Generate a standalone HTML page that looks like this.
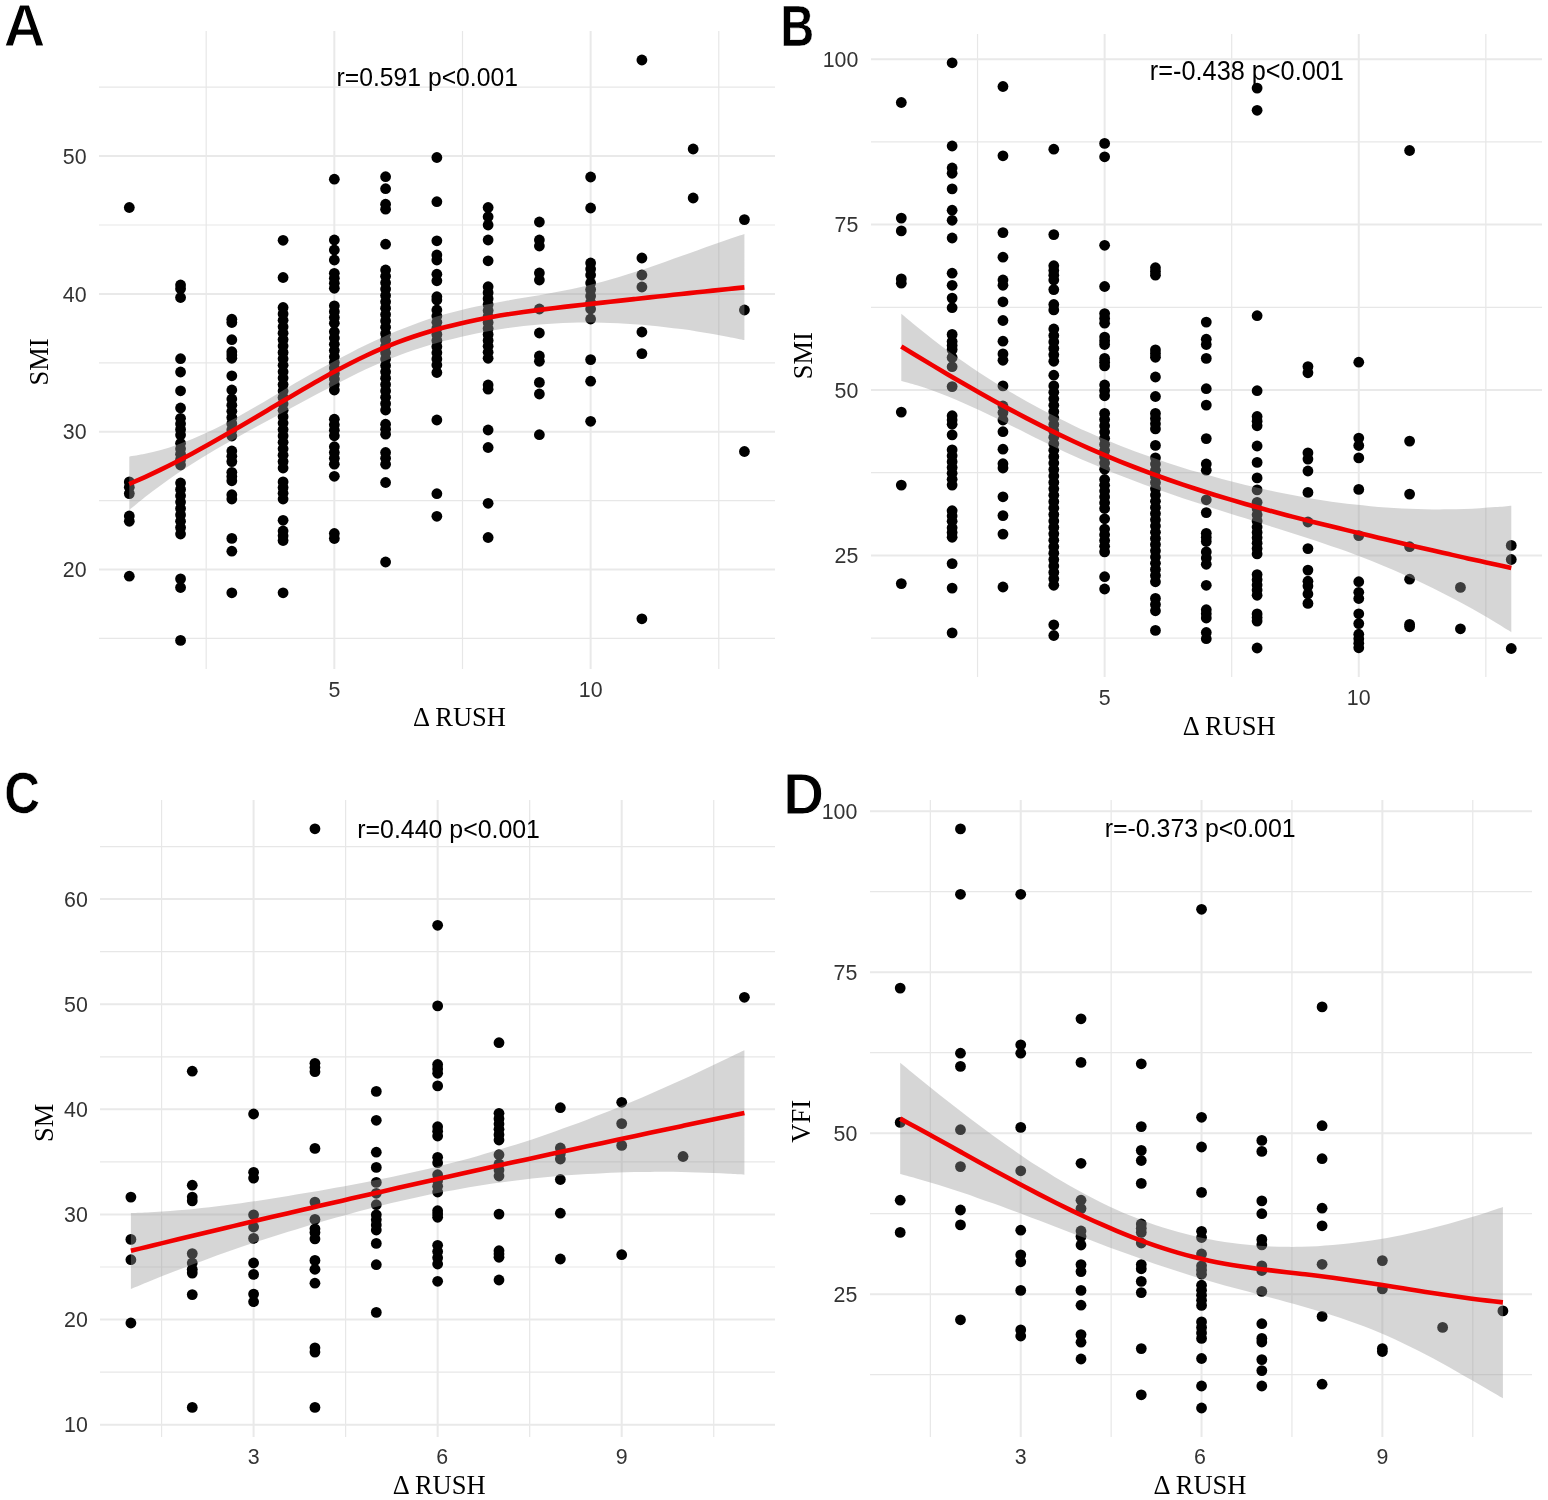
<!DOCTYPE html>
<html><head><meta charset="utf-8"><title>Figure</title><style>html,body{margin:0;padding:0;background:#fff;width:1548px;height:1500px;overflow:hidden}svg{display:block}</style></head><body>
<svg width="1548" height="1500" viewBox="0 0 1548 1500">
<rect width="1548" height="1500" fill="#fff"/>
<path d="M99 638.4H775M99 500.6H775M99 362.8H775M99 225H775M99 87.2H775M206.19 31V669M462.49 31V669M718.79 31V669" stroke="#e7e7e7" stroke-width="1.2" fill="none"/>
<path d="M99 569.5H775M99 431.7H775M99 293.9H775M99 156.1H775M334.34 31V669M590.64 31V669" stroke="#e9e9e9" stroke-width="2.0" fill="none"/>
<g fill="#000"><circle cx="129.3" cy="207.5" r="5.4"/><circle cx="129.3" cy="481.9" r="5.4"/><circle cx="129.3" cy="487.2" r="5.4"/><circle cx="129.3" cy="493.6" r="5.4"/><circle cx="129.3" cy="516" r="5.4"/><circle cx="129.3" cy="521.3" r="5.4"/><circle cx="129.3" cy="576.2" r="5.4"/><circle cx="180.56" cy="285" r="5.4"/><circle cx="180.56" cy="288.7" r="5.4"/><circle cx="180.56" cy="297.5" r="5.4"/><circle cx="180.56" cy="358.7" r="5.4"/><circle cx="180.56" cy="372" r="5.4"/><circle cx="180.56" cy="390.8" r="5.4"/><circle cx="180.56" cy="408" r="5.4"/><circle cx="180.56" cy="418.3" r="5.4"/><circle cx="180.56" cy="423.87" r="5.4"/><circle cx="180.56" cy="429.43" r="5.4"/><circle cx="180.56" cy="435" r="5.4"/><circle cx="180.56" cy="443.3" r="5.4"/><circle cx="180.56" cy="448.73" r="5.4"/><circle cx="180.56" cy="454.15" r="5.4"/><circle cx="180.56" cy="459.57" r="5.4"/><circle cx="180.56" cy="465" r="5.4"/><circle cx="180.56" cy="483" r="5.4"/><circle cx="180.56" cy="489.38" r="5.4"/><circle cx="180.56" cy="495.75" r="5.4"/><circle cx="180.56" cy="502.12" r="5.4"/><circle cx="180.56" cy="508.5" r="5.4"/><circle cx="180.56" cy="514.88" r="5.4"/><circle cx="180.56" cy="521.25" r="5.4"/><circle cx="180.56" cy="527.62" r="5.4"/><circle cx="180.56" cy="534" r="5.4"/><circle cx="180.56" cy="578.9" r="5.4"/><circle cx="180.56" cy="587.5" r="5.4"/><circle cx="180.56" cy="640.4" r="5.4"/><circle cx="231.82" cy="319.2" r="5.4"/><circle cx="231.82" cy="322.5" r="5.4"/><circle cx="231.82" cy="339.7" r="5.4"/><circle cx="231.82" cy="351.7" r="5.4"/><circle cx="231.82" cy="355" r="5.4"/><circle cx="231.82" cy="358.3" r="5.4"/><circle cx="231.82" cy="375.8" r="5.4"/><circle cx="231.82" cy="390" r="5.4"/><circle cx="231.82" cy="399" r="5.4"/><circle cx="231.82" cy="405.17" r="5.4"/><circle cx="231.82" cy="411.33" r="5.4"/><circle cx="231.82" cy="417.5" r="5.4"/><circle cx="231.82" cy="423.67" r="5.4"/><circle cx="231.82" cy="429.83" r="5.4"/><circle cx="231.82" cy="436" r="5.4"/><circle cx="231.82" cy="451" r="5.4"/><circle cx="231.82" cy="456.3" r="5.4"/><circle cx="231.82" cy="461.6" r="5.4"/><circle cx="231.82" cy="472.3" r="5.4"/><circle cx="231.82" cy="476.55" r="5.4"/><circle cx="231.82" cy="480.8" r="5.4"/><circle cx="231.82" cy="494.7" r="5.4"/><circle cx="231.82" cy="499" r="5.4"/><circle cx="231.82" cy="538.4" r="5.4"/><circle cx="231.82" cy="551.2" r="5.4"/><circle cx="231.82" cy="592.8" r="5.4"/><circle cx="283.08" cy="240.3" r="5.4"/><circle cx="283.08" cy="277.5" r="5.4"/><circle cx="283.08" cy="307.5" r="5.4"/><circle cx="283.08" cy="313.92" r="5.4"/><circle cx="283.08" cy="320.34" r="5.4"/><circle cx="283.08" cy="326.76" r="5.4"/><circle cx="283.08" cy="333.18" r="5.4"/><circle cx="283.08" cy="339.6" r="5.4"/><circle cx="283.08" cy="346.02" r="5.4"/><circle cx="283.08" cy="352.44" r="5.4"/><circle cx="283.08" cy="358.86" r="5.4"/><circle cx="283.08" cy="365.28" r="5.4"/><circle cx="283.08" cy="371.7" r="5.4"/><circle cx="283.08" cy="378.12" r="5.4"/><circle cx="283.08" cy="384.54" r="5.4"/><circle cx="283.08" cy="390.96" r="5.4"/><circle cx="283.08" cy="397.38" r="5.4"/><circle cx="283.08" cy="403.8" r="5.4"/><circle cx="283.08" cy="410.22" r="5.4"/><circle cx="283.08" cy="416.64" r="5.4"/><circle cx="283.08" cy="423.06" r="5.4"/><circle cx="283.08" cy="429.48" r="5.4"/><circle cx="283.08" cy="435.9" r="5.4"/><circle cx="283.08" cy="442.32" r="5.4"/><circle cx="283.08" cy="448.74" r="5.4"/><circle cx="283.08" cy="455.16" r="5.4"/><circle cx="283.08" cy="461.58" r="5.4"/><circle cx="283.08" cy="468" r="5.4"/><circle cx="283.08" cy="481.9" r="5.4"/><circle cx="283.08" cy="487.6" r="5.4"/><circle cx="283.08" cy="493.3" r="5.4"/><circle cx="283.08" cy="499" r="5.4"/><circle cx="283.08" cy="520.3" r="5.4"/><circle cx="283.08" cy="531" r="5.4"/><circle cx="283.08" cy="535.75" r="5.4"/><circle cx="283.08" cy="540.5" r="5.4"/><circle cx="283.08" cy="592.8" r="5.4"/><circle cx="334.34" cy="179.2" r="5.4"/><circle cx="334.34" cy="240" r="5.4"/><circle cx="334.34" cy="250" r="5.4"/><circle cx="334.34" cy="260" r="5.4"/><circle cx="334.34" cy="273.3" r="5.4"/><circle cx="334.34" cy="278.3" r="5.4"/><circle cx="334.34" cy="283.3" r="5.4"/><circle cx="334.34" cy="288.3" r="5.4"/><circle cx="334.34" cy="305.8" r="5.4"/><circle cx="334.34" cy="311.63" r="5.4"/><circle cx="334.34" cy="317.47" r="5.4"/><circle cx="334.34" cy="323.3" r="5.4"/><circle cx="334.34" cy="331.7" r="5.4"/><circle cx="334.34" cy="337.95" r="5.4"/><circle cx="334.34" cy="344.2" r="5.4"/><circle cx="334.34" cy="350.45" r="5.4"/><circle cx="334.34" cy="356.7" r="5.4"/><circle cx="334.34" cy="362.5" r="5.4"/><circle cx="334.34" cy="368" r="5.4"/><circle cx="334.34" cy="373.5" r="5.4"/><circle cx="334.34" cy="379" r="5.4"/><circle cx="334.34" cy="384.5" r="5.4"/><circle cx="334.34" cy="390" r="5.4"/><circle cx="334.34" cy="419.2" r="5.4"/><circle cx="334.34" cy="424.73" r="5.4"/><circle cx="334.34" cy="430.27" r="5.4"/><circle cx="334.34" cy="435.8" r="5.4"/><circle cx="334.34" cy="446.7" r="5.4"/><circle cx="334.34" cy="452.53" r="5.4"/><circle cx="334.34" cy="458.37" r="5.4"/><circle cx="334.34" cy="464.2" r="5.4"/><circle cx="334.34" cy="476.3" r="5.4"/><circle cx="334.34" cy="533.5" r="5.4"/><circle cx="334.34" cy="538.5" r="5.4"/><circle cx="385.6" cy="176.7" r="5.4"/><circle cx="385.6" cy="188.7" r="5.4"/><circle cx="385.6" cy="204.2" r="5.4"/><circle cx="385.6" cy="209.2" r="5.4"/><circle cx="385.6" cy="244.2" r="5.4"/><circle cx="385.6" cy="270" r="5.4"/><circle cx="385.6" cy="276.36" r="5.4"/><circle cx="385.6" cy="282.73" r="5.4"/><circle cx="385.6" cy="289.09" r="5.4"/><circle cx="385.6" cy="295.45" r="5.4"/><circle cx="385.6" cy="301.82" r="5.4"/><circle cx="385.6" cy="308.18" r="5.4"/><circle cx="385.6" cy="314.55" r="5.4"/><circle cx="385.6" cy="320.91" r="5.4"/><circle cx="385.6" cy="327.27" r="5.4"/><circle cx="385.6" cy="333.64" r="5.4"/><circle cx="385.6" cy="340" r="5.4"/><circle cx="385.6" cy="346.36" r="5.4"/><circle cx="385.6" cy="352.73" r="5.4"/><circle cx="385.6" cy="359.09" r="5.4"/><circle cx="385.6" cy="365.45" r="5.4"/><circle cx="385.6" cy="371.82" r="5.4"/><circle cx="385.6" cy="378.18" r="5.4"/><circle cx="385.6" cy="384.55" r="5.4"/><circle cx="385.6" cy="390.91" r="5.4"/><circle cx="385.6" cy="397.27" r="5.4"/><circle cx="385.6" cy="403.64" r="5.4"/><circle cx="385.6" cy="410" r="5.4"/><circle cx="385.6" cy="424.2" r="5.4"/><circle cx="385.6" cy="429.2" r="5.4"/><circle cx="385.6" cy="434.2" r="5.4"/><circle cx="385.6" cy="452.5" r="5.4"/><circle cx="385.6" cy="458.35" r="5.4"/><circle cx="385.6" cy="464.2" r="5.4"/><circle cx="385.6" cy="482.5" r="5.4"/><circle cx="385.6" cy="562" r="5.4"/><circle cx="436.86" cy="157.5" r="5.4"/><circle cx="436.86" cy="201.7" r="5.4"/><circle cx="436.86" cy="240.8" r="5.4"/><circle cx="436.86" cy="255" r="5.4"/><circle cx="436.86" cy="260" r="5.4"/><circle cx="436.86" cy="274.2" r="5.4"/><circle cx="436.86" cy="280.8" r="5.4"/><circle cx="436.86" cy="296.7" r="5.4"/><circle cx="436.86" cy="300" r="5.4"/><circle cx="436.86" cy="310" r="5.4"/><circle cx="436.86" cy="316.11" r="5.4"/><circle cx="436.86" cy="322.22" r="5.4"/><circle cx="436.86" cy="328.33" r="5.4"/><circle cx="436.86" cy="334.44" r="5.4"/><circle cx="436.86" cy="340.56" r="5.4"/><circle cx="436.86" cy="346.67" r="5.4"/><circle cx="436.86" cy="352.78" r="5.4"/><circle cx="436.86" cy="358.89" r="5.4"/><circle cx="436.86" cy="365" r="5.4"/><circle cx="436.86" cy="372.5" r="5.4"/><circle cx="436.86" cy="420" r="5.4"/><circle cx="436.86" cy="493.7" r="5.4"/><circle cx="436.86" cy="516.3" r="5.4"/><circle cx="488.12" cy="207.5" r="5.4"/><circle cx="488.12" cy="216.7" r="5.4"/><circle cx="488.12" cy="225" r="5.4"/><circle cx="488.12" cy="240" r="5.4"/><circle cx="488.12" cy="260.8" r="5.4"/><circle cx="488.12" cy="286.7" r="5.4"/><circle cx="488.12" cy="292.67" r="5.4"/><circle cx="488.12" cy="298.63" r="5.4"/><circle cx="488.12" cy="304.6" r="5.4"/><circle cx="488.12" cy="310.57" r="5.4"/><circle cx="488.12" cy="316.53" r="5.4"/><circle cx="488.12" cy="322.5" r="5.4"/><circle cx="488.12" cy="328.47" r="5.4"/><circle cx="488.12" cy="334.43" r="5.4"/><circle cx="488.12" cy="340.4" r="5.4"/><circle cx="488.12" cy="346.37" r="5.4"/><circle cx="488.12" cy="352.33" r="5.4"/><circle cx="488.12" cy="358.3" r="5.4"/><circle cx="488.12" cy="385" r="5.4"/><circle cx="488.12" cy="389.2" r="5.4"/><circle cx="488.12" cy="430" r="5.4"/><circle cx="488.12" cy="447.5" r="5.4"/><circle cx="488.12" cy="503.3" r="5.4"/><circle cx="488.12" cy="537.5" r="5.4"/><circle cx="539.38" cy="222" r="5.4"/><circle cx="539.38" cy="240" r="5.4"/><circle cx="539.38" cy="246" r="5.4"/><circle cx="539.38" cy="273" r="5.4"/><circle cx="539.38" cy="280" r="5.4"/><circle cx="539.38" cy="309" r="5.4"/><circle cx="539.38" cy="333" r="5.4"/><circle cx="539.38" cy="356" r="5.4"/><circle cx="539.38" cy="361.3" r="5.4"/><circle cx="539.38" cy="382.4" r="5.4"/><circle cx="539.38" cy="394" r="5.4"/><circle cx="539.38" cy="434.7" r="5.4"/><circle cx="590.64" cy="177" r="5.4"/><circle cx="590.64" cy="208" r="5.4"/><circle cx="590.64" cy="263" r="5.4"/><circle cx="590.64" cy="269" r="5.4"/><circle cx="590.64" cy="275" r="5.4"/><circle cx="590.64" cy="283" r="5.4"/><circle cx="590.64" cy="289.5" r="5.4"/><circle cx="590.64" cy="296" r="5.4"/><circle cx="590.64" cy="302.5" r="5.4"/><circle cx="590.64" cy="309" r="5.4"/><circle cx="590.64" cy="319" r="5.4"/><circle cx="590.64" cy="359.6" r="5.4"/><circle cx="590.64" cy="381.2" r="5.4"/><circle cx="590.64" cy="421.3" r="5.4"/><circle cx="641.9" cy="60" r="5.4"/><circle cx="641.9" cy="258" r="5.4"/><circle cx="641.9" cy="275" r="5.4"/><circle cx="641.9" cy="287" r="5.4"/><circle cx="641.9" cy="332" r="5.4"/><circle cx="641.9" cy="353.6" r="5.4"/><circle cx="641.9" cy="618.8" r="5.4"/><circle cx="693.16" cy="149" r="5.4"/><circle cx="693.16" cy="198" r="5.4"/><circle cx="744.42" cy="219.6" r="5.4"/><circle cx="744.42" cy="310" r="5.4"/><circle cx="744.42" cy="451.5" r="5.4"/></g>
<path d="M129.3,456.65C131.93,456.18 139.81,454.98 145.07,453.85C150.33,452.73 155.59,451.4 160.84,449.91C166.1,448.42 171.36,446.74 176.62,444.91C181.87,443.08 187.13,441.07 192.39,438.92C197.64,436.77 202.9,434.46 208.16,432.02C213.42,429.58 218.67,426.99 223.93,424.29C229.19,421.59 234.45,418.73 239.7,415.81C244.96,412.89 250.22,409.83 255.47,406.76C260.73,403.7 265.99,400.54 271.25,397.41C276.5,394.29 281.76,391.13 287.02,388.03C292.28,384.93 297.53,381.85 302.79,378.82C308.05,375.8 313.3,372.8 318.56,369.86C323.82,366.93 329.08,364.03 334.33,361.21C339.59,358.38 344.85,355.61 350.11,352.92C355.36,350.23 360.62,347.6 365.88,345.06C371.13,342.52 376.39,340.05 381.65,337.69C386.91,335.32 392.16,333.04 397.42,330.87C402.68,328.69 407.94,326.61 413.19,324.65C418.45,322.7 423.71,320.84 428.96,319.11C434.22,317.39 439.48,315.79 444.74,314.3C449.99,312.8 455.25,311.45 460.51,310.17C465.76,308.88 471.02,307.71 476.28,306.59C481.54,305.47 486.79,304.44 492.05,303.44C497.31,302.43 502.57,301.5 507.82,300.57C513.08,299.64 518.34,298.75 523.59,297.85C528.85,296.94 534.11,296.06 539.37,295.14C544.62,294.22 549.88,293.3 555.14,292.31C560.4,291.32 565.65,290.32 570.91,289.22C576.17,288.13 581.42,286.99 586.68,285.74C591.94,284.5 597.2,283.16 602.45,281.75C607.71,280.34 612.97,278.82 618.23,277.26C623.48,275.7 628.74,274.05 634,272.36C639.25,270.68 644.51,268.92 649.77,267.14C655.03,265.37 660.28,263.53 665.54,261.69C670.8,259.85 676.06,257.97 681.31,256.09C686.57,254.22 691.83,252.32 697.08,250.44C702.34,248.56 707.6,246.67 712.86,244.81C718.11,242.95 723.37,241.1 728.63,239.3C733.89,237.5 741.77,234.88 744.4,234L744.4,340.08C741.77,339.55 733.89,337.92 728.63,336.91C723.37,335.9 718.11,334.93 712.86,334.01C707.6,333.1 702.34,332.23 697.08,331.41C691.83,330.6 686.57,329.83 681.31,329.12C676.06,328.41 670.8,327.75 665.54,327.15C660.28,326.55 655.03,326 649.77,325.51C644.51,325.03 639.25,324.6 634,324.23C628.74,323.86 623.48,323.55 618.23,323.3C612.97,323.06 607.71,322.87 602.45,322.75C597.2,322.63 591.94,322.58 586.68,322.59C581.42,322.6 576.17,322.68 570.91,322.83C565.65,322.98 560.4,323.2 555.14,323.49C549.88,323.78 544.62,324.14 539.37,324.57C534.11,325.01 528.85,325.52 523.59,326.1C518.34,326.69 513.08,327.35 507.82,328.09C502.57,328.83 497.31,329.64 492.05,330.54C486.79,331.44 481.54,332.42 476.28,333.48C471.02,334.54 465.76,335.68 460.51,336.91C455.25,338.14 449.99,339.46 444.74,340.86C439.48,342.26 434.22,343.74 428.96,345.33C423.71,346.91 418.45,348.58 413.19,350.36C407.94,352.14 402.68,354.01 397.42,356C392.16,358 386.91,360.11 381.65,362.33C376.39,364.55 371.13,366.91 365.88,369.34C360.62,371.77 355.36,374.31 350.11,376.91C344.85,379.51 339.59,382.2 334.33,384.92C329.08,387.64 323.82,390.44 318.56,393.24C313.3,396.05 308.05,398.9 302.79,401.75C297.53,404.59 292.28,407.46 287.02,410.3C281.76,413.15 276.5,415.97 271.25,418.81C265.99,421.64 260.73,424.45 255.47,427.3C250.22,430.15 244.96,433 239.7,435.91C234.45,438.82 229.19,441.75 223.93,444.76C218.67,447.77 213.42,450.82 208.16,453.98C202.9,457.14 197.64,460.36 192.39,463.7C187.13,467.04 181.87,470.47 176.62,474.04C171.36,477.62 166.1,481.29 160.84,485.14C155.59,488.98 150.33,492.95 145.07,497.11C139.81,501.27 131.93,507.92 129.3,510.09Z" fill="#999999" fill-opacity="0.4"/>
<path d="M129.2,484.04C131.83,482.89 139.72,479.53 144.97,477.14C150.23,474.75 155.49,472.25 160.75,469.69C166.01,467.13 171.26,464.48 176.52,461.77C181.78,459.07 187.04,456.28 192.3,453.45C197.56,450.62 202.81,447.72 208.07,444.79C213.33,441.86 218.59,438.87 223.85,435.85C229.1,432.84 234.36,429.79 239.62,426.72C244.88,423.65 250.14,420.54 255.39,417.44C260.65,414.34 265.91,411.21 271.17,408.09C276.43,404.98 281.69,401.85 286.94,398.74C292.2,395.64 297.46,392.53 302.72,389.48C307.98,386.42 313.23,383.38 318.49,380.42C323.75,377.46 329.01,374.53 334.27,371.71C339.52,368.88 344.78,366.11 350.04,363.45C355.3,360.79 360.56,358.21 365.82,355.76C371.07,353.3 376.33,350.93 381.59,348.7C386.85,346.46 392.11,344.35 397.36,342.35C402.62,340.35 407.88,338.48 413.14,336.71C418.4,334.93 423.65,333.27 428.91,331.71C434.17,330.14 439.43,328.67 444.69,327.29C449.95,325.9 455.2,324.62 460.46,323.4C465.72,322.18 470.98,321.05 476.24,319.98C481.49,318.91 486.75,317.92 492.01,316.97C497.27,316.03 502.53,315.15 507.78,314.32C513.04,313.48 518.3,312.71 523.56,311.96C528.82,311.22 534.08,310.52 539.33,309.85C544.59,309.17 549.85,308.53 555.11,307.91C560.37,307.29 565.62,306.69 570.88,306.1C576.14,305.5 581.4,304.93 586.66,304.35C591.91,303.77 597.17,303.2 602.43,302.62C607.69,302.04 612.95,301.46 618.21,300.88C623.46,300.3 628.72,299.72 633.98,299.14C639.24,298.57 644.5,297.99 649.75,297.41C655.01,296.84 660.27,296.26 665.53,295.69C670.79,295.12 676.04,294.55 681.3,293.98C686.56,293.42 691.82,292.85 697.08,292.29C702.34,291.73 707.59,291.18 712.85,290.62C718.11,290.07 723.37,289.52 728.63,288.98C733.88,288.44 741.77,287.64 744.4,287.37" stroke="#f00000" stroke-width="4.6" fill="none" stroke-linejoin="round"/>
<path d="M871 638.06H1542M871 472.69H1542M871 307.31H1542M871 141.94H1542M977.54 34V677M1231.69 34V677M1485.84 34V677" stroke="#e7e7e7" stroke-width="1.2" fill="none"/>
<path d="M871 555.38H1542M871 390H1542M871 224.62H1542M871 59.25H1542M1104.62 34V677M1358.77 34V677" stroke="#e9e9e9" stroke-width="2.0" fill="none"/>
<g fill="#000"><circle cx="901.3" cy="102.5" r="5.4"/><circle cx="901.3" cy="218.1" r="5.4"/><circle cx="901.3" cy="230.9" r="5.4"/><circle cx="901.3" cy="278.9" r="5.4"/><circle cx="901.3" cy="283.2" r="5.4"/><circle cx="901.3" cy="412.1" r="5.4"/><circle cx="901.3" cy="485.1" r="5.4"/><circle cx="901.3" cy="583.6" r="5.4"/><circle cx="952.13" cy="62.8" r="5.4"/><circle cx="952.13" cy="146" r="5.4"/><circle cx="952.13" cy="168" r="5.4"/><circle cx="952.13" cy="173.3" r="5.4"/><circle cx="952.13" cy="188.9" r="5.4"/><circle cx="952.13" cy="210.2" r="5.4"/><circle cx="952.13" cy="220.3" r="5.4"/><circle cx="952.13" cy="238" r="5.4"/><circle cx="952.13" cy="273.2" r="5.4"/><circle cx="952.13" cy="285.3" r="5.4"/><circle cx="952.13" cy="298.1" r="5.4"/><circle cx="952.13" cy="307.7" r="5.4"/><circle cx="952.13" cy="334.4" r="5.4"/><circle cx="952.13" cy="341.5" r="5.4"/><circle cx="952.13" cy="345.5" r="5.4"/><circle cx="952.13" cy="349.6" r="5.4"/><circle cx="952.13" cy="357.5" r="5.4"/><circle cx="952.13" cy="366.7" r="5.4"/><circle cx="952.13" cy="386.6" r="5.4"/><circle cx="952.13" cy="415.7" r="5.4"/><circle cx="952.13" cy="420" r="5.4"/><circle cx="952.13" cy="424.3" r="5.4"/><circle cx="952.13" cy="434.9" r="5.4"/><circle cx="952.13" cy="449.9" r="5.4"/><circle cx="952.13" cy="455.77" r="5.4"/><circle cx="952.13" cy="461.63" r="5.4"/><circle cx="952.13" cy="467.5" r="5.4"/><circle cx="952.13" cy="473.37" r="5.4"/><circle cx="952.13" cy="479.23" r="5.4"/><circle cx="952.13" cy="485.1" r="5.4"/><circle cx="952.13" cy="510.7" r="5.4"/><circle cx="952.13" cy="516" r="5.4"/><circle cx="952.13" cy="521.3" r="5.4"/><circle cx="952.13" cy="527.7" r="5.4"/><circle cx="952.13" cy="532.5" r="5.4"/><circle cx="952.13" cy="537.3" r="5.4"/><circle cx="952.13" cy="563.6" r="5.4"/><circle cx="952.13" cy="588.1" r="5.4"/><circle cx="952.13" cy="632.9" r="5.4"/><circle cx="1002.96" cy="86.5" r="5.4"/><circle cx="1002.96" cy="155.8" r="5.4"/><circle cx="1002.96" cy="232.6" r="5.4"/><circle cx="1002.96" cy="257.2" r="5.4"/><circle cx="1002.96" cy="280" r="5.4"/><circle cx="1002.96" cy="285.3" r="5.4"/><circle cx="1002.96" cy="301.8" r="5.4"/><circle cx="1002.96" cy="320.5" r="5.4"/><circle cx="1002.96" cy="341.2" r="5.4"/><circle cx="1002.96" cy="353.9" r="5.4"/><circle cx="1002.96" cy="360.3" r="5.4"/><circle cx="1002.96" cy="385.9" r="5.4"/><circle cx="1002.96" cy="406" r="5.4"/><circle cx="1002.96" cy="412.5" r="5.4"/><circle cx="1002.96" cy="420" r="5.4"/><circle cx="1002.96" cy="431.7" r="5.4"/><circle cx="1002.96" cy="449.2" r="5.4"/><circle cx="1002.96" cy="463.7" r="5.4"/><circle cx="1002.96" cy="468" r="5.4"/><circle cx="1002.96" cy="496.8" r="5.4"/><circle cx="1002.96" cy="515.6" r="5.4"/><circle cx="1002.96" cy="534.1" r="5.4"/><circle cx="1002.96" cy="587" r="5.4"/><circle cx="1053.79" cy="149.2" r="5.4"/><circle cx="1053.79" cy="234.6" r="5.4"/><circle cx="1053.79" cy="265.7" r="5.4"/><circle cx="1053.79" cy="270.47" r="5.4"/><circle cx="1053.79" cy="275.23" r="5.4"/><circle cx="1053.79" cy="280" r="5.4"/><circle cx="1053.79" cy="289.6" r="5.4"/><circle cx="1053.79" cy="304.5" r="5.4"/><circle cx="1053.79" cy="309.9" r="5.4"/><circle cx="1053.79" cy="329" r="5.4"/><circle cx="1053.79" cy="335.46" r="5.4"/><circle cx="1053.79" cy="341.92" r="5.4"/><circle cx="1053.79" cy="348.38" r="5.4"/><circle cx="1053.79" cy="354.84" r="5.4"/><circle cx="1053.79" cy="361.3" r="5.4"/><circle cx="1053.79" cy="375.2" r="5.4"/><circle cx="1053.79" cy="385.9" r="5.4"/><circle cx="1053.79" cy="392.33" r="5.4"/><circle cx="1053.79" cy="398.76" r="5.4"/><circle cx="1053.79" cy="405.2" r="5.4"/><circle cx="1053.79" cy="411.63" r="5.4"/><circle cx="1053.79" cy="418.06" r="5.4"/><circle cx="1053.79" cy="424.49" r="5.4"/><circle cx="1053.79" cy="430.93" r="5.4"/><circle cx="1053.79" cy="437.36" r="5.4"/><circle cx="1053.79" cy="443.79" r="5.4"/><circle cx="1053.79" cy="450.22" r="5.4"/><circle cx="1053.79" cy="456.65" r="5.4"/><circle cx="1053.79" cy="463.09" r="5.4"/><circle cx="1053.79" cy="469.52" r="5.4"/><circle cx="1053.79" cy="475.95" r="5.4"/><circle cx="1053.79" cy="482.38" r="5.4"/><circle cx="1053.79" cy="488.82" r="5.4"/><circle cx="1053.79" cy="495.25" r="5.4"/><circle cx="1053.79" cy="501.68" r="5.4"/><circle cx="1053.79" cy="508.11" r="5.4"/><circle cx="1053.79" cy="514.55" r="5.4"/><circle cx="1053.79" cy="520.98" r="5.4"/><circle cx="1053.79" cy="527.41" r="5.4"/><circle cx="1053.79" cy="533.84" r="5.4"/><circle cx="1053.79" cy="540.27" r="5.4"/><circle cx="1053.79" cy="546.71" r="5.4"/><circle cx="1053.79" cy="553.14" r="5.4"/><circle cx="1053.79" cy="559.57" r="5.4"/><circle cx="1053.79" cy="566" r="5.4"/><circle cx="1053.79" cy="572.44" r="5.4"/><circle cx="1053.79" cy="578.87" r="5.4"/><circle cx="1053.79" cy="585.3" r="5.4"/><circle cx="1053.79" cy="624.8" r="5.4"/><circle cx="1053.79" cy="635.5" r="5.4"/><circle cx="1104.62" cy="143.4" r="5.4"/><circle cx="1104.62" cy="156.8" r="5.4"/><circle cx="1104.62" cy="245.3" r="5.4"/><circle cx="1104.62" cy="286.5" r="5.4"/><circle cx="1104.62" cy="313.6" r="5.4"/><circle cx="1104.62" cy="318.4" r="5.4"/><circle cx="1104.62" cy="323.2" r="5.4"/><circle cx="1104.62" cy="337.1" r="5.4"/><circle cx="1104.62" cy="340.8" r="5.4"/><circle cx="1104.62" cy="344.5" r="5.4"/><circle cx="1104.62" cy="358.4" r="5.4"/><circle cx="1104.62" cy="362.15" r="5.4"/><circle cx="1104.62" cy="365.9" r="5.4"/><circle cx="1104.62" cy="385" r="5.4"/><circle cx="1104.62" cy="390.4" r="5.4"/><circle cx="1104.62" cy="395.8" r="5.4"/><circle cx="1104.62" cy="413.4" r="5.4"/><circle cx="1104.62" cy="419.6" r="5.4"/><circle cx="1104.62" cy="425.8" r="5.4"/><circle cx="1104.62" cy="432" r="5.4"/><circle cx="1104.62" cy="438.2" r="5.4"/><circle cx="1104.62" cy="444.4" r="5.4"/><circle cx="1104.62" cy="450.6" r="5.4"/><circle cx="1104.62" cy="456.8" r="5.4"/><circle cx="1104.62" cy="463" r="5.4"/><circle cx="1104.62" cy="469.2" r="5.4"/><circle cx="1104.62" cy="479.5" r="5.4"/><circle cx="1104.62" cy="485.3" r="5.4"/><circle cx="1104.62" cy="491.1" r="5.4"/><circle cx="1104.62" cy="496.9" r="5.4"/><circle cx="1104.62" cy="502.7" r="5.4"/><circle cx="1104.62" cy="508.5" r="5.4"/><circle cx="1104.62" cy="518.8" r="5.4"/><circle cx="1104.62" cy="529.1" r="5.4"/><circle cx="1104.62" cy="534.8" r="5.4"/><circle cx="1104.62" cy="540.5" r="5.4"/><circle cx="1104.62" cy="546.2" r="5.4"/><circle cx="1104.62" cy="551.9" r="5.4"/><circle cx="1104.62" cy="576.7" r="5.4"/><circle cx="1104.62" cy="589" r="5.4"/><circle cx="1155.45" cy="267.7" r="5.4"/><circle cx="1155.45" cy="271.45" r="5.4"/><circle cx="1155.45" cy="275.2" r="5.4"/><circle cx="1155.45" cy="349.9" r="5.4"/><circle cx="1155.45" cy="353.6" r="5.4"/><circle cx="1155.45" cy="357.3" r="5.4"/><circle cx="1155.45" cy="377" r="5.4"/><circle cx="1155.45" cy="396.5" r="5.4"/><circle cx="1155.45" cy="413.4" r="5.4"/><circle cx="1155.45" cy="418.57" r="5.4"/><circle cx="1155.45" cy="423.73" r="5.4"/><circle cx="1155.45" cy="428.9" r="5.4"/><circle cx="1155.45" cy="445.4" r="5.4"/><circle cx="1155.45" cy="457.8" r="5.4"/><circle cx="1155.45" cy="464" r="5.4"/><circle cx="1155.45" cy="470.2" r="5.4"/><circle cx="1155.45" cy="476.4" r="5.4"/><circle cx="1155.45" cy="482.6" r="5.4"/><circle cx="1155.45" cy="488.8" r="5.4"/><circle cx="1155.45" cy="495" r="5.4"/><circle cx="1155.45" cy="501.2" r="5.4"/><circle cx="1155.45" cy="507.4" r="5.4"/><circle cx="1155.45" cy="513.6" r="5.4"/><circle cx="1155.45" cy="519.8" r="5.4"/><circle cx="1155.45" cy="526" r="5.4"/><circle cx="1155.45" cy="532.2" r="5.4"/><circle cx="1155.45" cy="538.4" r="5.4"/><circle cx="1155.45" cy="544.6" r="5.4"/><circle cx="1155.45" cy="550.8" r="5.4"/><circle cx="1155.45" cy="557" r="5.4"/><circle cx="1155.45" cy="563.2" r="5.4"/><circle cx="1155.45" cy="569.4" r="5.4"/><circle cx="1155.45" cy="575.6" r="5.4"/><circle cx="1155.45" cy="581.8" r="5.4"/><circle cx="1155.45" cy="598.4" r="5.4"/><circle cx="1155.45" cy="604.6" r="5.4"/><circle cx="1155.45" cy="610.8" r="5.4"/><circle cx="1155.45" cy="630.4" r="5.4"/><circle cx="1206.28" cy="322.1" r="5.4"/><circle cx="1206.28" cy="339.2" r="5.4"/><circle cx="1206.28" cy="344.5" r="5.4"/><circle cx="1206.28" cy="358.4" r="5.4"/><circle cx="1206.28" cy="388.7" r="5.4"/><circle cx="1206.28" cy="405.1" r="5.4"/><circle cx="1206.28" cy="438.6" r="5.4"/><circle cx="1206.28" cy="464" r="5.4"/><circle cx="1206.28" cy="470.2" r="5.4"/><circle cx="1206.28" cy="499.8" r="5.4"/><circle cx="1206.28" cy="512.6" r="5.4"/><circle cx="1206.28" cy="533.3" r="5.4"/><circle cx="1206.28" cy="537.4" r="5.4"/><circle cx="1206.28" cy="541.5" r="5.4"/><circle cx="1206.28" cy="551.9" r="5.4"/><circle cx="1206.28" cy="558.1" r="5.4"/><circle cx="1206.28" cy="564.3" r="5.4"/><circle cx="1206.28" cy="585.3" r="5.4"/><circle cx="1206.28" cy="609.7" r="5.4"/><circle cx="1206.28" cy="613.85" r="5.4"/><circle cx="1206.28" cy="618" r="5.4"/><circle cx="1206.28" cy="632.5" r="5.4"/><circle cx="1206.28" cy="638.7" r="5.4"/><circle cx="1257.11" cy="88.1" r="5.4"/><circle cx="1257.11" cy="110.3" r="5.4"/><circle cx="1257.11" cy="315.7" r="5.4"/><circle cx="1257.11" cy="390.7" r="5.4"/><circle cx="1257.11" cy="416.5" r="5.4"/><circle cx="1257.11" cy="421.15" r="5.4"/><circle cx="1257.11" cy="425.8" r="5.4"/><circle cx="1257.11" cy="446" r="5.4"/><circle cx="1257.11" cy="462.4" r="5.4"/><circle cx="1257.11" cy="477.9" r="5.4"/><circle cx="1257.11" cy="489.9" r="5.4"/><circle cx="1257.11" cy="502.3" r="5.4"/><circle cx="1257.11" cy="508.5" r="5.4"/><circle cx="1257.11" cy="514.7" r="5.4"/><circle cx="1257.11" cy="520.9" r="5.4"/><circle cx="1257.11" cy="527" r="5.4"/><circle cx="1257.11" cy="532.38" r="5.4"/><circle cx="1257.11" cy="537.76" r="5.4"/><circle cx="1257.11" cy="543.14" r="5.4"/><circle cx="1257.11" cy="548.52" r="5.4"/><circle cx="1257.11" cy="553.9" r="5.4"/><circle cx="1257.11" cy="574.6" r="5.4"/><circle cx="1257.11" cy="579.77" r="5.4"/><circle cx="1257.11" cy="584.95" r="5.4"/><circle cx="1257.11" cy="590.12" r="5.4"/><circle cx="1257.11" cy="595.3" r="5.4"/><circle cx="1257.11" cy="613.9" r="5.4"/><circle cx="1257.11" cy="617.5" r="5.4"/><circle cx="1257.11" cy="621.1" r="5.4"/><circle cx="1257.11" cy="648" r="5.4"/><circle cx="1307.94" cy="366.6" r="5.4"/><circle cx="1307.94" cy="372.8" r="5.4"/><circle cx="1307.94" cy="452.9" r="5.4"/><circle cx="1307.94" cy="459.1" r="5.4"/><circle cx="1307.94" cy="471" r="5.4"/><circle cx="1307.94" cy="492.4" r="5.4"/><circle cx="1307.94" cy="522" r="5.4"/><circle cx="1307.94" cy="548.6" r="5.4"/><circle cx="1307.94" cy="570.1" r="5.4"/><circle cx="1307.94" cy="581.2" r="5.4"/><circle cx="1307.94" cy="586.1" r="5.4"/><circle cx="1307.94" cy="594" r="5.4"/><circle cx="1307.94" cy="603.4" r="5.4"/><circle cx="1358.77" cy="362.2" r="5.4"/><circle cx="1358.77" cy="438.1" r="5.4"/><circle cx="1358.77" cy="445.5" r="5.4"/><circle cx="1358.77" cy="457.9" r="5.4"/><circle cx="1358.77" cy="489.4" r="5.4"/><circle cx="1358.77" cy="535.6" r="5.4"/><circle cx="1358.77" cy="581.7" r="5.4"/><circle cx="1358.77" cy="592.3" r="5.4"/><circle cx="1358.77" cy="598.5" r="5.4"/><circle cx="1358.77" cy="613.8" r="5.4"/><circle cx="1358.77" cy="623.6" r="5.4"/><circle cx="1358.77" cy="634.2" r="5.4"/><circle cx="1358.77" cy="638.73" r="5.4"/><circle cx="1358.77" cy="643.27" r="5.4"/><circle cx="1358.77" cy="647.8" r="5.4"/><circle cx="1409.6" cy="150.5" r="5.4"/><circle cx="1409.6" cy="441.1" r="5.4"/><circle cx="1409.6" cy="494.1" r="5.4"/><circle cx="1409.6" cy="546.7" r="5.4"/><circle cx="1409.6" cy="579.2" r="5.4"/><circle cx="1409.6" cy="624.4" r="5.4"/><circle cx="1409.6" cy="626.8" r="5.4"/><circle cx="1460.43" cy="587.4" r="5.4"/><circle cx="1460.43" cy="628.8" r="5.4"/><circle cx="1511.26" cy="545.4" r="5.4"/><circle cx="1511.26" cy="559.5" r="5.4"/><circle cx="1511.26" cy="648.5" r="5.4"/></g>
<path d="M901.3,313.68C903.91,315.85 911.73,322.48 916.94,326.73C922.15,330.97 927.37,335.1 932.58,339.13C937.8,343.17 943.01,347.09 948.22,350.92C953.44,354.75 958.65,358.48 963.86,362.11C969.08,365.75 974.29,369.28 979.51,372.73C984.72,376.17 989.93,379.52 995.15,382.78C1000.36,386.05 1005.57,389.22 1010.79,392.3C1016,395.39 1021.21,398.39 1026.43,401.31C1031.64,404.23 1036.86,407.06 1042.07,409.82C1047.28,412.58 1052.5,415.26 1057.71,417.86C1062.92,420.47 1068.14,422.99 1073.35,425.45C1078.56,427.9 1083.78,430.29 1088.99,432.6C1094.21,434.92 1099.42,437.16 1104.63,439.35C1109.85,441.53 1115.06,443.65 1120.27,445.7C1125.49,447.76 1130.7,449.75 1135.92,451.69C1141.13,453.63 1146.34,455.5 1151.56,457.33C1156.77,459.15 1161.98,460.92 1167.2,462.64C1172.41,464.36 1177.62,466.02 1182.84,467.64C1188.05,469.26 1193.27,470.83 1198.48,472.36C1203.69,473.89 1208.91,475.37 1214.12,476.81C1219.33,478.26 1224.55,479.65 1229.76,481.01C1234.98,482.36 1240.19,483.68 1245.4,484.94C1250.62,486.21 1255.83,487.43 1261.04,488.61C1266.26,489.78 1271.47,490.91 1276.68,491.99C1281.9,493.08 1287.11,494.11 1292.33,495.1C1297.54,496.09 1302.75,497.03 1307.97,497.92C1313.18,498.81 1318.39,499.66 1323.61,500.45C1328.82,501.24 1334.04,501.98 1339.25,502.67C1344.46,503.37 1349.68,504.01 1354.89,504.6C1360.1,505.18 1365.32,505.72 1370.53,506.2C1375.74,506.69 1380.96,507.12 1386.17,507.5C1391.39,507.87 1396.6,508.2 1401.81,508.46C1407.03,508.73 1412.24,508.94 1417.45,509.1C1422.67,509.26 1427.88,509.36 1433.09,509.4C1438.31,509.44 1443.52,509.43 1448.74,509.36C1453.95,509.29 1459.16,509.16 1464.38,508.97C1469.59,508.78 1474.8,508.54 1480.02,508.23C1485.23,507.92 1490.45,507.55 1495.66,507.12C1500.87,506.69 1508.69,505.9 1511.3,505.65L1511.3,632.16C1508.69,630.56 1500.87,625.68 1495.66,622.55C1490.45,619.42 1485.23,616.36 1480.02,613.37C1474.8,610.38 1469.59,607.46 1464.38,604.61C1459.16,601.76 1453.95,598.98 1448.74,596.27C1443.52,593.55 1438.31,590.91 1433.09,588.33C1427.88,585.76 1422.67,583.25 1417.45,580.8C1412.24,578.35 1407.03,575.98 1401.81,573.66C1396.6,571.34 1391.39,569.09 1386.17,566.91C1380.96,564.72 1375.74,562.59 1370.53,560.53C1365.32,558.47 1360.1,556.47 1354.89,554.53C1349.68,552.58 1344.46,550.71 1339.25,548.86C1334.04,547.02 1328.82,545.24 1323.61,543.48C1318.39,541.72 1313.18,540 1307.97,538.29C1302.75,536.59 1297.54,534.92 1292.33,533.24C1287.11,531.57 1281.9,529.92 1276.68,528.26C1271.47,526.6 1266.26,524.96 1261.04,523.31C1255.83,521.66 1250.62,520.01 1245.4,518.36C1240.19,516.7 1234.98,515.05 1229.76,513.39C1224.55,511.73 1219.33,510.06 1214.12,508.38C1208.91,506.7 1203.69,505.02 1198.48,503.31C1193.27,501.6 1188.05,499.88 1182.84,498.13C1177.62,496.38 1172.41,494.61 1167.2,492.8C1161.98,490.99 1156.77,489.15 1151.56,487.27C1146.34,485.38 1141.13,483.46 1135.92,481.49C1130.7,479.53 1125.49,477.52 1120.27,475.46C1115.06,473.41 1109.85,471.31 1104.63,469.16C1099.42,467.02 1094.21,464.82 1088.99,462.58C1083.78,460.34 1078.56,458.05 1073.35,455.7C1068.14,453.36 1062.92,450.97 1057.71,448.52C1052.5,446.07 1047.28,443.56 1042.07,441.02C1036.86,438.49 1031.64,435.9 1026.43,433.31C1021.21,430.73 1016,428.11 1010.79,425.53C1005.57,422.95 1000.36,420.35 995.15,417.82C989.93,415.28 984.72,412.76 979.51,410.32C974.29,407.88 969.08,405.47 963.86,403.18C958.65,400.88 953.44,398.64 948.22,396.54C943.01,394.43 937.8,392.41 932.58,390.54C927.37,388.67 922.15,386.91 916.94,385.33C911.73,383.75 903.91,381.76 901.3,381.05Z" fill="#999999" fill-opacity="0.4"/>
<path d="M901.3,346.49C903.91,348.07 911.73,352.85 916.94,356.01C922.15,359.16 927.37,362.29 932.58,365.4C937.8,368.51 943.01,371.6 948.22,374.66C953.44,377.72 958.65,380.76 963.86,383.76C969.08,386.76 974.29,389.74 979.51,392.67C984.72,395.61 989.93,398.52 995.15,401.39C1000.36,404.26 1005.57,407.09 1010.79,409.88C1016,412.68 1021.21,415.43 1026.43,418.14C1031.64,420.85 1036.86,423.51 1042.07,426.13C1047.28,428.75 1052.5,431.32 1057.71,433.84C1062.92,436.36 1068.14,438.83 1073.35,441.25C1078.56,443.67 1083.78,446.03 1088.99,448.34C1094.21,450.65 1099.42,452.9 1104.63,455.11C1109.85,457.31 1115.06,459.46 1120.27,461.57C1125.49,463.67 1130.7,465.73 1135.92,467.74C1141.13,469.75 1146.34,471.71 1151.56,473.63C1156.77,475.55 1161.98,477.42 1167.2,479.25C1172.41,481.09 1177.62,482.88 1182.84,484.63C1188.05,486.38 1193.27,488.09 1198.48,489.77C1203.69,491.45 1208.91,493.09 1214.12,494.69C1219.33,496.3 1224.55,497.87 1229.76,499.41C1234.98,500.95 1240.19,502.46 1245.4,503.94C1250.62,505.43 1255.83,506.88 1261.04,508.31C1266.26,509.74 1271.47,511.15 1276.68,512.53C1281.9,513.92 1287.11,515.28 1292.33,516.63C1297.54,517.98 1302.75,519.3 1307.97,520.62C1313.18,521.93 1318.39,523.23 1323.61,524.51C1328.82,525.8 1334.04,527.07 1339.25,528.34C1344.46,529.61 1349.68,530.86 1354.89,532.12C1360.1,533.37 1365.32,534.62 1370.53,535.86C1375.74,537.1 1380.96,538.34 1386.17,539.58C1391.39,540.81 1396.6,542.04 1401.81,543.26C1407.03,544.48 1412.24,545.7 1417.45,546.91C1422.67,548.12 1427.88,549.32 1433.09,550.52C1438.31,551.72 1443.52,552.91 1448.74,554.09C1453.95,555.28 1459.16,556.46 1464.38,557.63C1469.59,558.8 1474.8,559.96 1480.02,561.11C1485.23,562.27 1490.45,563.42 1495.66,564.56C1500.87,565.7 1508.69,567.39 1511.3,567.95" stroke="#f00000" stroke-width="4.6" fill="none" stroke-linejoin="round"/>
<path d="M100 1372.14H775M100 1267.02H775M100 1161.9H775M100 1056.78H775M100 951.66H775M100 846.54H775M161.58 800V1437M345.62 800V1437M529.68 800V1437M713.73 800V1437" stroke="#e7e7e7" stroke-width="1.2" fill="none"/>
<path d="M100 1424.7H775M100 1319.58H775M100 1214.46H775M100 1109.34H775M100 1004.22H775M100 899.1H775M253.6 800V1437M437.65 800V1437M621.7 800V1437" stroke="#e9e9e9" stroke-width="2.0" fill="none"/>
<g fill="#000"><circle cx="130.9" cy="1197.1" r="5.4"/><circle cx="130.9" cy="1239.4" r="5.4"/><circle cx="130.9" cy="1259.7" r="5.4"/><circle cx="130.9" cy="1323" r="5.4"/><circle cx="192.25" cy="1071.2" r="5.4"/><circle cx="192.25" cy="1185.2" r="5.4"/><circle cx="192.25" cy="1197.1" r="5.4"/><circle cx="192.25" cy="1200.9" r="5.4"/><circle cx="192.25" cy="1253.6" r="5.4"/><circle cx="192.25" cy="1263" r="5.4"/><circle cx="192.25" cy="1269.3" r="5.4"/><circle cx="192.25" cy="1273.1" r="5.4"/><circle cx="192.25" cy="1294.6" r="5.4"/><circle cx="192.25" cy="1407.4" r="5.4"/><circle cx="253.6" cy="1114" r="5.4"/><circle cx="253.6" cy="1172.3" r="5.4"/><circle cx="253.6" cy="1178.1" r="5.4"/><circle cx="253.6" cy="1214.8" r="5.4"/><circle cx="253.6" cy="1227" r="5.4"/><circle cx="253.6" cy="1238.4" r="5.4"/><circle cx="253.6" cy="1263" r="5.4"/><circle cx="253.6" cy="1274.4" r="5.4"/><circle cx="253.6" cy="1294.1" r="5.4"/><circle cx="253.6" cy="1301.7" r="5.4"/><circle cx="314.95" cy="828.8" r="5.4"/><circle cx="314.95" cy="1063.3" r="5.4"/><circle cx="314.95" cy="1067.5" r="5.4"/><circle cx="314.95" cy="1071.7" r="5.4"/><circle cx="314.95" cy="1148.4" r="5.4"/><circle cx="314.95" cy="1202.1" r="5.4"/><circle cx="314.95" cy="1219.4" r="5.4"/><circle cx="314.95" cy="1228.8" r="5.4"/><circle cx="314.95" cy="1232.6" r="5.4"/><circle cx="314.95" cy="1238.9" r="5.4"/><circle cx="314.95" cy="1260.4" r="5.4"/><circle cx="314.95" cy="1269.3" r="5.4"/><circle cx="314.95" cy="1283.2" r="5.4"/><circle cx="314.95" cy="1347.8" r="5.4"/><circle cx="314.95" cy="1352.1" r="5.4"/><circle cx="314.95" cy="1407.4" r="5.4"/><circle cx="376.3" cy="1091.4" r="5.4"/><circle cx="376.3" cy="1120.3" r="5.4"/><circle cx="376.3" cy="1152.2" r="5.4"/><circle cx="376.3" cy="1167.4" r="5.4"/><circle cx="376.3" cy="1182.4" r="5.4"/><circle cx="376.3" cy="1193.3" r="5.4"/><circle cx="376.3" cy="1204.7" r="5.4"/><circle cx="376.3" cy="1214.8" r="5.4"/><circle cx="376.3" cy="1219.87" r="5.4"/><circle cx="376.3" cy="1224.93" r="5.4"/><circle cx="376.3" cy="1230" r="5.4"/><circle cx="376.3" cy="1243.4" r="5.4"/><circle cx="376.3" cy="1264.7" r="5.4"/><circle cx="376.3" cy="1312.4" r="5.4"/><circle cx="437.65" cy="925.3" r="5.4"/><circle cx="437.65" cy="1005.9" r="5.4"/><circle cx="437.65" cy="1064.5" r="5.4"/><circle cx="437.65" cy="1068.9" r="5.4"/><circle cx="437.65" cy="1073.3" r="5.4"/><circle cx="437.65" cy="1085.9" r="5.4"/><circle cx="437.65" cy="1126.7" r="5.4"/><circle cx="437.65" cy="1131.35" r="5.4"/><circle cx="437.65" cy="1136" r="5.4"/><circle cx="437.65" cy="1157.3" r="5.4"/><circle cx="437.65" cy="1162.7" r="5.4"/><circle cx="437.65" cy="1174.7" r="5.4"/><circle cx="437.65" cy="1180.47" r="5.4"/><circle cx="437.65" cy="1186.23" r="5.4"/><circle cx="437.65" cy="1192" r="5.4"/><circle cx="437.65" cy="1210.7" r="5.4"/><circle cx="437.65" cy="1214" r="5.4"/><circle cx="437.65" cy="1217.3" r="5.4"/><circle cx="437.65" cy="1245.3" r="5.4"/><circle cx="437.65" cy="1251.53" r="5.4"/><circle cx="437.65" cy="1257.77" r="5.4"/><circle cx="437.65" cy="1264" r="5.4"/><circle cx="437.65" cy="1281.3" r="5.4"/><circle cx="499" cy="1042.7" r="5.4"/><circle cx="499" cy="1113.3" r="5.4"/><circle cx="499" cy="1118.64" r="5.4"/><circle cx="499" cy="1123.98" r="5.4"/><circle cx="499" cy="1129.32" r="5.4"/><circle cx="499" cy="1134.66" r="5.4"/><circle cx="499" cy="1140" r="5.4"/><circle cx="499" cy="1154.7" r="5.4"/><circle cx="499" cy="1164" r="5.4"/><circle cx="499" cy="1170" r="5.4"/><circle cx="499" cy="1176" r="5.4"/><circle cx="499" cy="1214.1" r="5.4"/><circle cx="499" cy="1250.7" r="5.4"/><circle cx="499" cy="1254" r="5.4"/><circle cx="499" cy="1257.3" r="5.4"/><circle cx="499" cy="1280" r="5.4"/><circle cx="560.35" cy="1107.7" r="5.4"/><circle cx="560.35" cy="1148" r="5.4"/><circle cx="560.35" cy="1153.5" r="5.4"/><circle cx="560.35" cy="1159" r="5.4"/><circle cx="560.35" cy="1179.5" r="5.4"/><circle cx="560.35" cy="1213.2" r="5.4"/><circle cx="560.35" cy="1259" r="5.4"/><circle cx="621.7" cy="1102.3" r="5.4"/><circle cx="621.7" cy="1123.6" r="5.4"/><circle cx="621.7" cy="1145.4" r="5.4"/><circle cx="621.7" cy="1254.7" r="5.4"/><circle cx="683.05" cy="1156.5" r="5.4"/><circle cx="744.4" cy="997.3" r="5.4"/></g>
<path d="M130.9,1213.02C133.52,1212.92 141.39,1212.67 146.63,1212.42C151.87,1212.18 157.12,1211.87 162.36,1211.52C167.61,1211.18 172.85,1210.78 178.09,1210.34C183.34,1209.9 188.58,1209.42 193.82,1208.9C199.07,1208.38 204.31,1207.81 209.55,1207.22C214.8,1206.62 220.04,1205.98 225.28,1205.32C230.53,1204.65 235.77,1203.95 241.02,1203.23C246.26,1202.5 251.5,1201.74 256.75,1200.96C261.99,1200.19 267.23,1199.38 272.48,1198.55C277.72,1197.73 282.96,1196.88 288.21,1196.01C293.45,1195.15 298.69,1194.27 303.94,1193.37C309.18,1192.48 314.43,1191.57 319.67,1190.65C324.91,1189.72 330.16,1188.79 335.4,1187.84C340.64,1186.9 345.89,1185.93 351.13,1184.95C356.37,1183.97 361.62,1182.97 366.86,1181.94C372.11,1180.92 377.35,1179.88 382.59,1178.8C387.84,1177.73 393.08,1176.64 398.32,1175.51C403.57,1174.39 408.81,1173.24 414.05,1172.05C419.3,1170.87 424.54,1169.65 429.78,1168.4C435.03,1167.14 440.27,1165.86 445.52,1164.53C450.76,1163.21 456,1161.85 461.25,1160.45C466.49,1159.05 471.73,1157.61 476.98,1156.14C482.22,1154.67 487.46,1153.16 492.71,1151.61C497.95,1150.07 503.19,1148.48 508.44,1146.86C513.68,1145.24 518.93,1143.58 524.17,1141.88C529.41,1140.19 534.66,1138.45 539.9,1136.68C545.14,1134.91 550.39,1133.1 555.63,1131.25C560.87,1129.41 566.12,1127.52 571.36,1125.6C576.61,1123.68 581.85,1121.72 587.09,1119.72C592.34,1117.72 597.58,1115.69 602.82,1113.61C608.07,1111.54 613.31,1109.43 618.55,1107.28C623.8,1105.13 629.04,1102.94 634.28,1100.72C639.53,1098.49 644.77,1096.23 650.02,1093.94C655.26,1091.66 660.5,1089.34 665.75,1086.99C670.99,1084.65 676.23,1082.27 681.48,1079.88C686.72,1077.49 691.96,1075.07 697.21,1072.63C702.45,1070.2 707.69,1067.75 712.94,1065.28C718.18,1062.82 723.43,1060.34 728.67,1057.85C733.91,1055.36 741.78,1051.61 744.4,1050.36L744.4,1174.64C741.78,1174.48 733.91,1173.99 728.67,1173.71C723.43,1173.43 718.18,1173.18 712.94,1172.96C707.69,1172.74 702.45,1172.56 697.21,1172.4C691.96,1172.25 686.72,1172.12 681.48,1172.03C676.23,1171.94 670.99,1171.88 665.75,1171.86C660.5,1171.83 655.26,1171.84 650.02,1171.88C644.77,1171.92 639.53,1171.99 634.28,1172.1C629.04,1172.21 623.8,1172.35 618.55,1172.53C613.31,1172.7 608.07,1172.91 602.82,1173.16C597.58,1173.41 592.34,1173.68 587.09,1174C581.85,1174.32 576.61,1174.67 571.36,1175.05C566.12,1175.44 560.87,1175.86 555.63,1176.32C550.39,1176.78 545.14,1177.28 539.9,1177.81C534.66,1178.34 529.41,1178.91 524.17,1179.52C518.93,1180.12 513.68,1180.77 508.44,1181.45C503.19,1182.13 497.95,1182.85 492.71,1183.61C487.46,1184.37 482.22,1185.17 476.98,1186C471.73,1186.84 466.49,1187.71 461.25,1188.63C456,1189.54 450.76,1190.49 445.52,1191.49C440.27,1192.48 435.03,1193.52 429.78,1194.59C424.54,1195.66 419.3,1196.78 414.05,1197.93C408.81,1199.08 403.57,1200.26 398.32,1201.49C393.08,1202.71 387.84,1203.97 382.59,1205.26C377.35,1206.55 372.11,1207.88 366.86,1209.23C361.62,1210.59 356.37,1211.98 351.13,1213.39C345.89,1214.81 340.64,1216.26 335.4,1217.73C330.16,1219.2 324.91,1220.71 319.67,1222.23C314.43,1223.76 309.18,1225.31 303.94,1226.89C298.69,1228.47 293.45,1230.07 288.21,1231.7C282.96,1233.33 277.72,1234.98 272.48,1236.66C267.23,1238.34 261.99,1240.05 256.75,1241.79C251.5,1243.52 246.26,1245.28 241.02,1247.08C235.77,1248.87 230.53,1250.68 225.28,1252.53C220.04,1254.38 214.8,1256.25 209.55,1258.15C204.31,1260.06 199.07,1261.99 193.82,1263.95C188.58,1265.91 183.34,1267.9 178.09,1269.93C172.85,1271.95 167.61,1274 162.36,1276.08C157.12,1278.17 151.87,1280.28 146.63,1282.42C141.39,1284.57 133.52,1287.87 130.9,1288.95Z" fill="#999999" fill-opacity="0.4"/>
<path d="M130.9,1250.81C133.52,1250.16 141.39,1248.23 146.63,1246.95C151.87,1245.67 157.12,1244.39 162.36,1243.12C167.61,1241.85 172.85,1240.57 178.09,1239.31C183.34,1238.04 188.58,1236.77 193.82,1235.51C199.07,1234.25 204.31,1232.99 209.55,1231.74C214.8,1230.48 220.04,1229.23 225.28,1227.98C230.53,1226.74 235.77,1225.49 241.02,1224.25C246.26,1223.01 251.5,1221.77 256.75,1220.53C261.99,1219.29 267.23,1218.06 272.48,1216.83C277.72,1215.6 282.96,1214.37 288.21,1213.15C293.45,1211.92 298.69,1210.7 303.94,1209.48C309.18,1208.27 314.43,1207.05 319.67,1205.84C324.91,1204.63 330.16,1203.42 335.4,1202.21C340.64,1201 345.89,1199.8 351.13,1198.6C356.37,1197.4 361.62,1196.2 366.86,1195C372.11,1193.81 377.35,1192.61 382.59,1191.42C387.84,1190.23 393.08,1189.04 398.32,1187.86C403.57,1186.67 408.81,1185.49 414.05,1184.31C419.3,1183.13 424.54,1181.95 429.78,1180.78C435.03,1179.6 440.27,1178.43 445.52,1177.26C450.76,1176.09 456,1174.93 461.25,1173.76C466.49,1172.6 471.73,1171.43 476.98,1170.27C482.22,1169.11 487.46,1167.96 492.71,1166.8C497.95,1165.65 503.19,1164.49 508.44,1163.34C513.68,1162.19 518.93,1161.04 524.17,1159.9C529.41,1158.75 534.66,1157.61 539.9,1156.47C545.14,1155.33 550.39,1154.19 555.63,1153.05C560.87,1151.91 566.12,1150.78 571.36,1149.65C576.61,1148.51 581.85,1147.38 587.09,1146.25C592.34,1145.13 597.58,1144 602.82,1142.88C608.07,1141.75 613.31,1140.63 618.55,1139.51C623.8,1138.39 629.04,1137.27 634.28,1136.15C639.53,1135.04 644.77,1133.92 650.02,1132.81C655.26,1131.7 660.5,1130.59 665.75,1129.48C670.99,1128.37 676.23,1127.26 681.48,1126.16C686.72,1125.05 691.96,1123.95 697.21,1122.85C702.45,1121.75 707.69,1120.65 712.94,1119.55C718.18,1118.45 723.43,1117.35 728.67,1116.26C733.91,1115.16 741.78,1113.53 744.4,1112.98" stroke="#f00000" stroke-width="4.6" fill="none" stroke-linejoin="round"/>
<path d="M870 1374.7H1532M870 1213.7H1532M870 1052.7H1532M870 891.7H1532M930.34 800V1437M1111.14 800V1437M1291.95 800V1437M1472.77 800V1437" stroke="#e7e7e7" stroke-width="1.2" fill="none"/>
<path d="M870 1294.2H1532M870 1133.2H1532M870 972.2H1532M870 811.2H1532M1020.74 800V1437M1201.55 800V1437M1382.36 800V1437" stroke="#e9e9e9" stroke-width="2.0" fill="none"/>
<g fill="#000"><circle cx="900.2" cy="988.1" r="5.4"/><circle cx="900.2" cy="1122.4" r="5.4"/><circle cx="900.2" cy="1200.2" r="5.4"/><circle cx="900.2" cy="1232.4" r="5.4"/><circle cx="960.47" cy="828.9" r="5.4"/><circle cx="960.47" cy="894.3" r="5.4"/><circle cx="960.47" cy="1053.2" r="5.4"/><circle cx="960.47" cy="1066.4" r="5.4"/><circle cx="960.47" cy="1129.7" r="5.4"/><circle cx="960.47" cy="1166.6" r="5.4"/><circle cx="960.47" cy="1210" r="5.4"/><circle cx="960.47" cy="1224.9" r="5.4"/><circle cx="960.47" cy="1319.8" r="5.4"/><circle cx="1020.74" cy="894.3" r="5.4"/><circle cx="1020.74" cy="1044.8" r="5.4"/><circle cx="1020.74" cy="1053.2" r="5.4"/><circle cx="1020.74" cy="1127.4" r="5.4"/><circle cx="1020.74" cy="1170.8" r="5.4"/><circle cx="1020.74" cy="1230.2" r="5.4"/><circle cx="1020.74" cy="1254.8" r="5.4"/><circle cx="1020.74" cy="1261.8" r="5.4"/><circle cx="1020.74" cy="1290.4" r="5.4"/><circle cx="1020.74" cy="1329.9" r="5.4"/><circle cx="1020.74" cy="1336" r="5.4"/><circle cx="1081.01" cy="1018.8" r="5.4"/><circle cx="1081.01" cy="1062.4" r="5.4"/><circle cx="1081.01" cy="1163.3" r="5.4"/><circle cx="1081.01" cy="1200.2" r="5.4"/><circle cx="1081.01" cy="1208.6" r="5.4"/><circle cx="1081.01" cy="1231" r="5.4"/><circle cx="1081.01" cy="1236.6" r="5.4"/><circle cx="1081.01" cy="1245" r="5.4"/><circle cx="1081.01" cy="1264.6" r="5.4"/><circle cx="1081.01" cy="1271.6" r="5.4"/><circle cx="1081.01" cy="1290.4" r="5.4"/><circle cx="1081.01" cy="1305.2" r="5.4"/><circle cx="1081.01" cy="1334.6" r="5.4"/><circle cx="1081.01" cy="1342.2" r="5.4"/><circle cx="1081.01" cy="1359" r="5.4"/><circle cx="1141.28" cy="1063.8" r="5.4"/><circle cx="1141.28" cy="1126.6" r="5.4"/><circle cx="1141.28" cy="1150.4" r="5.4"/><circle cx="1141.28" cy="1160.5" r="5.4"/><circle cx="1141.28" cy="1183.4" r="5.4"/><circle cx="1141.28" cy="1224" r="5.4"/><circle cx="1141.28" cy="1228.2" r="5.4"/><circle cx="1141.28" cy="1232.4" r="5.4"/><circle cx="1141.28" cy="1243" r="5.4"/><circle cx="1141.28" cy="1264.6" r="5.4"/><circle cx="1141.28" cy="1268.8" r="5.4"/><circle cx="1141.28" cy="1281.4" r="5.4"/><circle cx="1141.28" cy="1292.6" r="5.4"/><circle cx="1141.28" cy="1348.6" r="5.4"/><circle cx="1141.28" cy="1394.8" r="5.4"/><circle cx="1201.55" cy="909.3" r="5.4"/><circle cx="1201.55" cy="1117.3" r="5.4"/><circle cx="1201.55" cy="1147" r="5.4"/><circle cx="1201.55" cy="1192.4" r="5.4"/><circle cx="1201.55" cy="1231.3" r="5.4"/><circle cx="1201.55" cy="1237.5" r="5.4"/><circle cx="1201.55" cy="1254" r="5.4"/><circle cx="1201.55" cy="1265.8" r="5.4"/><circle cx="1201.55" cy="1270" r="5.4"/><circle cx="1201.55" cy="1274.2" r="5.4"/><circle cx="1201.55" cy="1285.2" r="5.4"/><circle cx="1201.55" cy="1290.25" r="5.4"/><circle cx="1201.55" cy="1295.3" r="5.4"/><circle cx="1201.55" cy="1300.35" r="5.4"/><circle cx="1201.55" cy="1305.4" r="5.4"/><circle cx="1201.55" cy="1321.9" r="5.4"/><circle cx="1201.55" cy="1327.4" r="5.4"/><circle cx="1201.55" cy="1332.9" r="5.4"/><circle cx="1201.55" cy="1338.4" r="5.4"/><circle cx="1201.55" cy="1358.5" r="5.4"/><circle cx="1201.55" cy="1386" r="5.4"/><circle cx="1201.55" cy="1408" r="5.4"/><circle cx="1261.82" cy="1140.4" r="5.4"/><circle cx="1261.82" cy="1151.4" r="5.4"/><circle cx="1261.82" cy="1200.9" r="5.4"/><circle cx="1261.82" cy="1213.7" r="5.4"/><circle cx="1261.82" cy="1239.4" r="5.4"/><circle cx="1261.82" cy="1244.9" r="5.4"/><circle cx="1261.82" cy="1265.8" r="5.4"/><circle cx="1261.82" cy="1270.5" r="5.4"/><circle cx="1261.82" cy="1291.4" r="5.4"/><circle cx="1261.82" cy="1323.7" r="5.4"/><circle cx="1261.82" cy="1338.4" r="5.4"/><circle cx="1261.82" cy="1342" r="5.4"/><circle cx="1261.82" cy="1359.6" r="5.4"/><circle cx="1261.82" cy="1370.6" r="5.4"/><circle cx="1261.82" cy="1386" r="5.4"/><circle cx="1322.09" cy="1006.9" r="5.4"/><circle cx="1322.09" cy="1125.7" r="5.4"/><circle cx="1322.09" cy="1158.7" r="5.4"/><circle cx="1322.09" cy="1208.2" r="5.4"/><circle cx="1322.09" cy="1225.8" r="5.4"/><circle cx="1322.09" cy="1264.3" r="5.4"/><circle cx="1322.09" cy="1316.4" r="5.4"/><circle cx="1322.09" cy="1384.2" r="5.4"/><circle cx="1382.36" cy="1260.6" r="5.4"/><circle cx="1382.36" cy="1288.9" r="5.4"/><circle cx="1382.36" cy="1348.6" r="5.4"/><circle cx="1382.36" cy="1351.5" r="5.4"/><circle cx="1442.63" cy="1327.4" r="5.4"/><circle cx="1502.9" cy="1310.9" r="5.4"/></g>
<path d="M900.2,1062.7C902.78,1064.81 910.5,1071.18 915.65,1075.38C920.81,1079.58 925.96,1083.76 931.11,1087.9C936.26,1092.04 941.41,1096.15 946.56,1100.21C951.71,1104.28 956.86,1108.31 962.02,1112.28C967.17,1116.26 972.32,1120.19 977.47,1124.05C982.62,1127.92 987.77,1131.74 992.92,1135.48C998.07,1139.23 1003.23,1142.92 1008.38,1146.53C1013.53,1150.13 1018.68,1153.68 1023.83,1157.13C1028.98,1160.59 1034.13,1163.97 1039.28,1167.26C1044.44,1170.55 1049.59,1173.76 1054.74,1176.88C1059.89,1180 1065.04,1183.03 1070.19,1185.96C1075.34,1188.89 1080.49,1191.73 1085.65,1194.47C1090.8,1197.21 1095.95,1199.85 1101.1,1202.38C1106.25,1204.91 1111.4,1207.35 1116.55,1209.66C1121.71,1211.98 1126.86,1214.19 1132.01,1216.29C1137.16,1218.38 1142.31,1220.36 1147.46,1222.22C1152.61,1224.08 1157.76,1225.82 1162.92,1227.45C1168.07,1229.09 1173.22,1230.6 1178.37,1232.02C1183.52,1233.43 1188.67,1234.73 1193.82,1235.93C1198.97,1237.12 1204.13,1238.21 1209.28,1239.21C1214.43,1240.2 1219.58,1241.09 1224.73,1241.88C1229.88,1242.67 1235.03,1243.37 1240.18,1243.97C1245.34,1244.56 1250.49,1245.07 1255.64,1245.48C1260.79,1245.89 1265.94,1246.21 1271.09,1246.44C1276.24,1246.67 1281.39,1246.81 1286.55,1246.86C1291.7,1246.92 1296.85,1246.89 1302,1246.77C1307.15,1246.66 1312.3,1246.46 1317.45,1246.19C1322.61,1245.91 1327.76,1245.55 1332.91,1245.12C1338.06,1244.69 1343.21,1244.18 1348.36,1243.59C1353.51,1243.01 1358.66,1242.35 1363.82,1241.62C1368.97,1240.89 1374.12,1240.09 1379.27,1239.23C1384.42,1238.36 1389.57,1237.43 1394.72,1236.43C1399.87,1235.43 1405.03,1234.36 1410.18,1233.24C1415.33,1232.12 1420.48,1230.93 1425.63,1229.68C1430.78,1228.44 1435.93,1227.13 1441.08,1225.78C1446.24,1224.42 1451.39,1223 1456.54,1221.54C1461.69,1220.07 1466.84,1218.55 1471.99,1216.98C1477.14,1215.42 1482.29,1213.8 1487.45,1212.13C1492.6,1210.47 1500.32,1207.86 1502.9,1207.01L1502.9,1398.19C1500.32,1396.69 1492.6,1392.16 1487.45,1389.16C1482.29,1386.17 1477.14,1383.16 1471.99,1380.2C1466.84,1377.24 1461.69,1374.29 1456.54,1371.39C1451.39,1368.49 1446.24,1365.62 1441.08,1362.81C1435.93,1360 1430.78,1357.24 1425.63,1354.55C1420.48,1351.86 1415.33,1349.23 1410.18,1346.69C1405.03,1344.15 1399.87,1341.68 1394.72,1339.31C1389.57,1336.95 1384.42,1334.67 1379.27,1332.51C1374.12,1330.34 1368.97,1328.28 1363.82,1326.31C1358.66,1324.33 1353.51,1322.46 1348.36,1320.65C1343.21,1318.85 1338.06,1317.13 1332.91,1315.47C1327.76,1313.8 1322.61,1312.21 1317.45,1310.66C1312.3,1309.11 1307.15,1307.63 1302,1306.17C1296.85,1304.7 1291.7,1303.29 1286.55,1301.89C1281.39,1300.49 1276.24,1299.13 1271.09,1297.76C1265.94,1296.4 1260.79,1295.06 1255.64,1293.7C1250.49,1292.34 1245.34,1291 1240.18,1289.62C1235.03,1288.25 1229.88,1286.87 1224.73,1285.45C1219.58,1284.02 1214.43,1282.59 1209.28,1281.09C1204.13,1279.6 1198.97,1278.07 1193.82,1276.49C1188.67,1274.91 1183.52,1273.28 1178.37,1271.61C1173.22,1269.94 1168.07,1268.22 1162.92,1266.48C1157.76,1264.73 1152.61,1262.95 1147.46,1261.14C1142.31,1259.32 1137.16,1257.48 1132.01,1255.61C1126.86,1253.75 1121.71,1251.85 1116.55,1249.94C1111.4,1248.04 1106.25,1246.1 1101.1,1244.16C1095.95,1242.22 1090.8,1240.27 1085.65,1238.3C1080.49,1236.34 1075.34,1234.37 1070.19,1232.4C1065.04,1230.43 1059.89,1228.45 1054.74,1226.48C1049.59,1224.52 1044.44,1222.55 1039.28,1220.59C1034.13,1218.63 1028.98,1216.68 1023.83,1214.75C1018.68,1212.82 1013.53,1210.9 1008.38,1209C1003.23,1207.11 998.07,1205.22 992.92,1203.37C987.77,1201.53 982.62,1199.7 977.47,1197.9C972.32,1196.11 967.17,1194.35 962.02,1192.62C956.86,1190.9 951.71,1189.21 946.56,1187.57C941.41,1185.92 936.26,1184.32 931.11,1182.77C925.96,1181.22 920.81,1179.71 915.65,1178.26C910.5,1176.81 902.78,1174.77 900.2,1174.07Z" fill="#999999" fill-opacity="0.4"/>
<path d="M900.2,1118.63C902.78,1120.02 910.5,1124.2 915.65,1127.02C920.81,1129.83 925.96,1132.67 931.11,1135.51C936.26,1138.35 941.41,1141.2 946.56,1144.06C951.71,1146.91 956.86,1149.77 962.02,1152.63C967.17,1155.48 972.32,1158.33 977.47,1161.17C982.62,1164.01 987.77,1166.85 992.92,1169.67C998.07,1172.48 1003.23,1175.28 1008.38,1178.06C1013.53,1180.83 1018.68,1183.59 1023.83,1186.32C1028.98,1189.04 1034.13,1191.74 1039.28,1194.4C1044.44,1197.06 1049.59,1199.69 1054.74,1202.27C1059.89,1204.85 1065.04,1207.39 1070.19,1209.89C1075.34,1212.38 1080.49,1214.82 1085.65,1217.21C1090.8,1219.6 1095.95,1221.93 1101.1,1224.2C1106.25,1226.47 1111.4,1228.69 1116.55,1230.83C1121.71,1232.97 1126.86,1235.05 1132.01,1237.04C1137.16,1239.04 1142.31,1240.97 1147.46,1242.81C1152.61,1244.66 1157.76,1246.42 1162.92,1248.1C1168.07,1249.77 1173.22,1251.36 1178.37,1252.85C1183.52,1254.35 1188.67,1255.75 1193.82,1257.05C1198.97,1258.35 1204.13,1259.54 1209.28,1260.64C1214.43,1261.75 1219.58,1262.74 1224.73,1263.67C1229.88,1264.6 1235.03,1265.44 1240.18,1266.24C1245.34,1267.03 1250.49,1267.75 1255.64,1268.44C1260.79,1269.14 1265.94,1269.77 1271.09,1270.4C1276.24,1271.02 1281.39,1271.61 1286.55,1272.2C1291.7,1272.8 1296.85,1273.37 1302,1273.96C1307.15,1274.56 1312.3,1275.15 1317.45,1275.78C1322.61,1276.42 1327.76,1277.08 1332.91,1277.76C1338.06,1278.45 1343.21,1279.17 1348.36,1279.91C1353.51,1280.65 1358.66,1281.41 1363.82,1282.19C1368.97,1282.97 1374.12,1283.77 1379.27,1284.57C1384.42,1285.37 1389.57,1286.19 1394.72,1287.01C1399.87,1287.82 1405.03,1288.65 1410.18,1289.47C1415.33,1290.28 1420.48,1291.1 1425.63,1291.91C1430.78,1292.71 1435.93,1293.51 1441.08,1294.28C1446.24,1295.06 1451.39,1295.83 1456.54,1296.56C1461.69,1297.3 1466.84,1298.01 1471.99,1298.69C1477.14,1299.38 1482.29,1300.03 1487.45,1300.64C1492.6,1301.26 1500.32,1302.08 1502.9,1302.37" stroke="#f00000" stroke-width="4.6" fill="none" stroke-linejoin="round"/>
<g font-family="'Liberation Sans', Arial, sans-serif" font-size="22.1" fill="#333333"><text transform="translate(86.6,163.85) scale(0.968,1)" text-anchor="end">50</text><text transform="translate(86.6,301.65) scale(0.968,1)" text-anchor="end">40</text><text transform="translate(86.6,439.45) scale(0.968,1)" text-anchor="end">30</text><text transform="translate(86.6,577.25) scale(0.968,1)" text-anchor="end">20</text><text transform="translate(334.34,696.8) scale(0.968,1)" text-anchor="middle">5</text><text transform="translate(590.64,696.8) scale(0.968,1)" text-anchor="middle">10</text><text transform="translate(858.4,67) scale(0.968,1)" text-anchor="end">100</text><text transform="translate(858.4,232.38) scale(0.968,1)" text-anchor="end">75</text><text transform="translate(858.4,397.75) scale(0.968,1)" text-anchor="end">50</text><text transform="translate(858.4,563.12) scale(0.968,1)" text-anchor="end">25</text><text transform="translate(1104.62,705.1) scale(0.968,1)" text-anchor="middle">5</text><text transform="translate(1358.77,705.1) scale(0.968,1)" text-anchor="middle">10</text><text transform="translate(87.9,906.85) scale(0.968,1)" text-anchor="end">60</text><text transform="translate(87.9,1011.97) scale(0.968,1)" text-anchor="end">50</text><text transform="translate(87.9,1117.09) scale(0.968,1)" text-anchor="end">40</text><text transform="translate(87.9,1222.21) scale(0.968,1)" text-anchor="end">30</text><text transform="translate(87.9,1327.33) scale(0.968,1)" text-anchor="end">20</text><text transform="translate(87.9,1432.45) scale(0.968,1)" text-anchor="end">10</text><text transform="translate(253.6,1464.1) scale(0.968,1)" text-anchor="middle">3</text><text transform="translate(442.1,1464.1) scale(0.968,1)" text-anchor="middle">6</text><text transform="translate(621.7,1464.1) scale(0.968,1)" text-anchor="middle">9</text><text transform="translate(857.4,818.95) scale(0.968,1)" text-anchor="end">100</text><text transform="translate(857.4,979.95) scale(0.968,1)" text-anchor="end">75</text><text transform="translate(857.4,1140.95) scale(0.968,1)" text-anchor="end">50</text><text transform="translate(857.4,1301.95) scale(0.968,1)" text-anchor="end">25</text><text transform="translate(1020.74,1463.9) scale(0.968,1)" text-anchor="middle">3</text><text transform="translate(1200,1463.9) scale(0.968,1)" text-anchor="middle">6</text><text transform="translate(1382.36,1463.9) scale(0.968,1)" text-anchor="middle">9</text></g>
<text transform="translate(336.61,85.8) scale(0.9346,1)" font-family="'Liberation Sans', Arial, sans-serif" font-size="26.43" fill="#000">r=0.591 p&lt;0.001</text>
<text transform="translate(1149.87,79.6) scale(0.9346,1)" font-family="'Liberation Sans', Arial, sans-serif" font-size="27.07" fill="#000">r=-0.438 p&lt;0.001</text>
<text transform="translate(357.3,838.1) scale(0.9346,1)" font-family="'Liberation Sans', Arial, sans-serif" font-size="26.64" fill="#000">r=0.440 p&lt;0.001</text>
<text transform="translate(1104.7,837.3) scale(0.9346,1)" font-family="'Liberation Sans', Arial, sans-serif" font-size="26.64" fill="#000">r=-0.373 p&lt;0.001</text>
<text x="459.5" y="726.1" text-anchor="middle" font-family="'Liberation Serif', 'Times New Roman', serif" font-size="26.5" fill="#000">Δ RUSH</text>
<text x="1229.3" y="735" text-anchor="middle" font-family="'Liberation Serif', 'Times New Roman', serif" font-size="26.5" fill="#000">Δ RUSH</text>
<text x="439.15" y="1493.6" text-anchor="middle" font-family="'Liberation Serif', 'Times New Roman', serif" font-size="26.5" fill="#000">Δ RUSH</text>
<text x="1200" y="1493.6" text-anchor="middle" font-family="'Liberation Serif', 'Times New Roman', serif" font-size="26.5" fill="#000">Δ RUSH</text>
<text transform="translate(48,362) rotate(-90)" text-anchor="middle" font-family="'Liberation Serif', 'Times New Roman', serif" font-size="26.5" fill="#000">SMI</text>
<text transform="translate(811.5,355.7) rotate(-90)" text-anchor="middle" font-family="'Liberation Serif', 'Times New Roman', serif" font-size="26.5" fill="#000">SMI</text>
<text transform="translate(53.4,1122.85) rotate(-90)" text-anchor="middle" font-family="'Liberation Serif', 'Times New Roman', serif" font-size="26.5" fill="#000">SM</text>
<text transform="translate(810.3,1121.35) rotate(-90)" text-anchor="middle" font-family="'Liberation Serif', 'Times New Roman', serif" font-size="26.5" fill="#000">VFI</text>
<text transform="translate(3.56,46.4) scale(0.9960,1)" font-family="'Liberation Sans', Arial, sans-serif" font-weight="bold" font-size="58.42" fill="#000" stroke="#fff" stroke-width="1.2">A</text>
<text transform="translate(780.53,46.25) scale(0.8072,1)" font-family="'Liberation Sans', Arial, sans-serif" font-weight="bold" font-size="57.71" fill="#000" stroke="#fff" stroke-width="0.5">B</text>
<text transform="translate(4.2,813.11) scale(0.8766,1)" font-family="'Liberation Sans', Arial, sans-serif" font-weight="bold" font-size="56.46" fill="#000" stroke="#fff" stroke-width="0.6">C</text>
<text transform="translate(783.14,813.5) scale(0.9741,1)" font-family="'Liberation Sans', Arial, sans-serif" font-weight="bold" font-size="58.14" fill="#000" stroke="#fff" stroke-width="1.0">D</text>
</svg>
</body></html>
